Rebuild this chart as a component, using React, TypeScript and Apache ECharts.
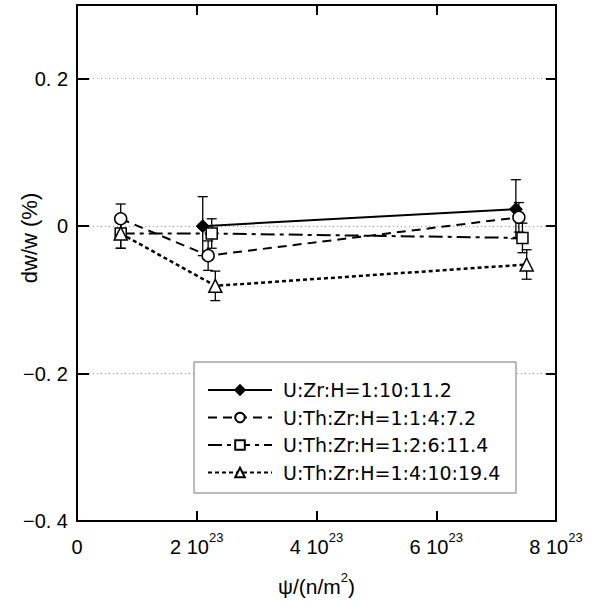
import React, { useEffect, useRef } from "react";
import * as echarts from "echarts";

// ---- data ----
const seriesNames = [
  "U:Zr:H=1:10:11.2",
  "U:Th:Zr:H=1:1:4:7.2",
  "U:Th:Zr:H=1:2:6:11.4",
  "U:Th:Zr:H=1:4:10:19.4",
];
// series 1 (filled diamond)
const fluence1 = [2.1e23, 7.33e23];
const dw1 = [0.0, 0.023];
const err1 = [0.04, 0.04];
// series 2 (open circle)
const fluence2 = [0.73e23, 2.19e23, 7.38e23];
const dw2 = [0.01, -0.04, 0.012];
const err2 = [0.02, 0.02, 0.02];
// series 3 (open square)
const fluence3 = [0.73e23, 2.25e23, 7.44e23];
const dw3 = [-0.01, -0.01, -0.016];
const err3 = [0.02, 0.02, 0.02];
// series 4 (open triangle)
const fluence4 = [0.73e23, 2.31e23, 7.51e23];
const dw4 = [-0.01, -0.081, -0.052];
const err4 = [0.02, 0.02, 0.02];

const xTickValues = [0, 2e23, 4e23, 6e23, 8e23];
const yTickValues = [-0.4, -0.2, 0, 0.2];

const AX_FONT = "'Liberation Sans', Arial, sans-serif";
const LEG_FONT = "'DejaVu Sans', sans-serif";

function pts(xs: number[], ys: number[]) {
  return xs.map((x, i) => [x, ys[i]]);
}
function errPts(xs: number[], ys: number[], es: number[]) {
  return xs.map((x, i) => [x, ys[i], es[i]]);
}

export default function App() {
  const ref = useRef<HTMLDivElement>(null);
  useEffect(() => {
    if (!ref.current) return;
    const chart = echarts.init(ref.current, undefined, { renderer: "svg" });

    const errRender = (params: any, api: any) => {
      const x = api.value(0);
      const y = api.value(1);
      const e = api.value(2);
      const t = api.coord([x, y + e]);
      const b = api.coord([x, y - e]);
      const hw = 5;
      const st = { stroke: "#000", lineWidth: 1.3 };
      return {
        type: "group",
        children: [
          { type: "line", shape: { x1: t[0], y1: t[1], x2: b[0], y2: b[1] }, style: st },
          { type: "line", shape: { x1: t[0] - hw, y1: t[1], x2: t[0] + hw, y2: t[1] }, style: st },
          { type: "line", shape: { x1: b[0] - hw, y1: b[1], x2: b[0] + hw, y2: b[1] }, style: st },
        ],
      };
    };

    const xLabel = (v: number) => {
      if (!xTickValues.some((t) => Math.abs(t - v) < 1e18)) return "";
      if (v === 0) return "{n|0}";
      const m = Math.round(v / 1e23);
      return `{n|${m} 10}{s|23}`;
    };
    const yLabel = (v: number) => {
      if (!yTickValues.some((t) => Math.abs(t - v) < 1e-9)) return "";
      if (Math.abs(v) < 1e-9) return "0";
      const d = Math.round(Math.abs(v) * 10);
      return (v < 0 ? "\u2212" : "") + "0. " + d;
    };

    const openStyle = { color: "#fff", borderColor: "#000", borderWidth: 1.5 };

    chart.setOption({
      animation: false,
      backgroundColor: "#fff",
      grid: { left: 77, right: 40, top: 5, bottom: 83 },
      xAxis: [
        {
          type: "value",
          min: 0,
          max: 8e23,
          interval: 2e23,
          axisLine: { show: true, onZero: false, lineStyle: { color: "#000", width: 2 } },
          axisTick: { show: true, inside: true, length: 10, lineStyle: { color: "#000", width: 2 } },
          splitLine: { show: false },
          axisLabel: {
            margin: 10,
            formatter: xLabel,
            rich: {
              n: { fontFamily: AX_FONT, fontSize: 20, color: "#000", lineHeight: 26, verticalAlign: "bottom" },
              s: { fontFamily: AX_FONT, fontSize: 13, color: "#000", lineHeight: 14, verticalAlign: "top" },
            },
          },
          name: "{a|\u03c8/(n/m}{s|2}{a|)}",
          nameLocation: "middle",
          nameGap: 50,
          nameTextStyle: {
            rich: {
              a: { fontFamily: AX_FONT, fontSize: 21, color: "#000", lineHeight: 26, verticalAlign: "bottom" },
              s: { fontFamily: AX_FONT, fontSize: 13, color: "#000", lineHeight: 14, verticalAlign: "top" },
            },
          },
        },
        {
          type: "value",
          position: "top",
          min: 0,
          max: 8e23,
          interval: 2e23,
          axisLine: { show: true, onZero: false, lineStyle: { color: "#000", width: 2 } },
          axisTick: { show: true, inside: true, length: 10, lineStyle: { color: "#000", width: 2 } },
          splitLine: { show: false },
          axisLabel: { show: false },
        },
      ],
      yAxis: [
        {
          type: "value",
          min: -0.4,
          max: 0.3,
          interval: 0.2,
          axisLine: { show: true, onZero: false, lineStyle: { color: "#000", width: 2 } },
          axisTick: { show: true, inside: true, length: 12, lineStyle: { color: "#000", width: 2 } },
          splitLine: { show: true, lineStyle: { color: "#999", width: 1, type: [1, 3] } },
          axisLabel: {
            margin: 9,
            formatter: yLabel,
            fontFamily: AX_FONT,
            fontSize: 20,
            color: "#000",
          },
        },
        {
          type: "value",
          position: "right",
          min: -0.4,
          max: 0.3,
          interval: 0.2,
          axisLine: { show: true, onZero: false, lineStyle: { color: "#000", width: 2 } },
          axisTick: { show: true, inside: true, length: 10, lineStyle: { color: "#000", width: 2 } },
          splitLine: { show: false },
          axisLabel: { show: false },
        },
      ],
      legend: {
        data: seriesNames,
        orient: "vertical",
        left: 207,
        top: 380,
        padding: 0,
        itemWidth: 64,
        itemHeight: 12,
        itemGap: 7.5,
        z: 10,
        textStyle: { fontFamily: LEG_FONT, fontSize: 19, color: "#000", lineHeight: 20, padding: [0, 0, 0, 6] },
      },
      graphic: [
        {
          type: "rect",
          z: 8,
          shape: { x: 194, y: 362, width: 322, height: 131 },
          style: { fill: "#fff", stroke: "#777", lineWidth: 1 },
        },
        {
          type: "text",
          x: 29,
          y: 238,
          rotation: Math.PI / 2,
          style: {
            text: "dw/w (%)",
            fontFamily: AX_FONT,
            fontSize: 22,
            fill: "#000",
            align: "center",
            verticalAlign: "middle",
          },
        },
      ],
      series: [
        { type: "custom", name: "err1", renderItem: errRender, data: errPts(fluence1, dw1, err1), encode: { x: 0, y: 1 }, z: 1, silent: true },
        { type: "custom", name: "err2", renderItem: errRender, data: errPts(fluence2, dw2, err2), encode: { x: 0, y: 1 }, z: 1, silent: true },
        { type: "custom", name: "err3", renderItem: errRender, data: errPts(fluence3, dw3, err3), encode: { x: 0, y: 1 }, z: 1, silent: true },
        { type: "custom", name: "err4", renderItem: errRender, data: errPts(fluence4, dw4, err4), encode: { x: 0, y: 1 }, z: 1, silent: true },
        {
          type: "line",
          name: seriesNames[0],
          data: pts(fluence1, dw1),
          symbol: "diamond",
          symbolSize: 13,
          lineStyle: { color: "#000", width: 2, type: "solid" },
          itemStyle: { color: "#000", borderColor: "#000", borderWidth: 1 },
          z: 3,
        },
        {
          type: "line",
          name: seriesNames[1],
          data: pts(fluence2, dw2),
          symbol: "circle",
          symbolSize: 12,
          lineStyle: { color: "#000", width: 2, type: [9, 6] },
          itemStyle: openStyle,
          z: 3,
        },
        {
          type: "line",
          name: seriesNames[2],
          data: pts(fluence3, dw3),
          symbol: "rect",
          symbolSize: 11,
          lineStyle: { color: "#000", width: 2, type: [14, 5, 4, 5] },
          itemStyle: openStyle,
          z: 3,
        },
        {
          type: "line",
          name: seriesNames[3],
          data: pts(fluence4, dw4),
          symbol: "triangle",
          symbolSize: 13,
          lineStyle: { color: "#000", width: 2.5, type: [4, 3] },
          itemStyle: openStyle,
          z: 3,
        },
      ],
    });
    return () => chart.dispose();
  }, []);
  return (
    <div
      ref={ref}
      style={{ position: "fixed", left: 0, top: 0, width: 596, height: 604, background: "#fff" }}
    />
  );
}
